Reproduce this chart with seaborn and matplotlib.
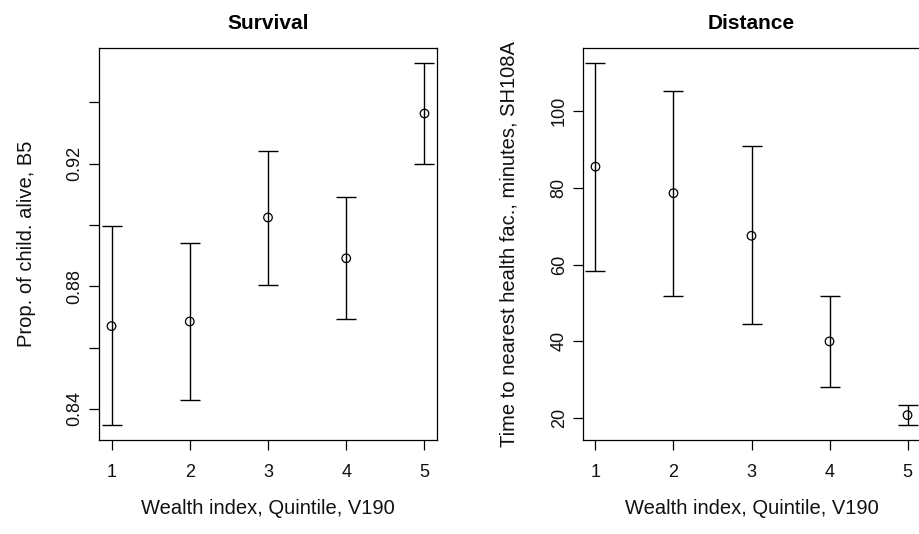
import numpy as np
import pandas as pd
import matplotlib
matplotlib.use("Agg")
import matplotlib.pyplot as plt
import seaborn as sns

# Wealth quintiles (x)
quintile = [1, 2, 3, 4, 5]

# Survival panel: proportion of children alive (B5), mean and interval
surv_mean = [0.8670, 0.8685, 0.9024, 0.8891, 0.9363]
surv_low = [0.8346, 0.8428, 0.8805, 0.8692, 0.9197]
surv_high = [0.8995, 0.8941, 0.9242, 0.9091, 0.9529]
surv_ticks = [0.84, 0.86, 0.88, 0.90, 0.92, 0.94]
surv_labels = ["0.84", "", "0.88", "", "0.92", ""]

# Distance panel: minutes to nearest health facility (SH108A)
dist_mean = [85.5, 78.6, 67.5, 40.0, 20.8]
dist_low = [58.3, 51.9, 44.4, 28.2, 18.1]
dist_high = [112.6, 105.3, 90.8, 51.8, 23.5]
dist_ticks = [20, 40, 60, 80, 100]
dist_labels = ["20", "40", "60", "80", "100"]


def r_style_panel(ax, mean, low, high, ticks, labels, title, ylabel, ylabel_pad):
    df = pd.DataFrame({"x": quintile, "y": mean, "lo": low, "hi": high})
    ax.errorbar(df["x"], df["y"],
                yerr=[df["y"] - df["lo"], df["hi"] - df["y"]],
                fmt="none", ecolor="black", elinewidth=1.0,
                capsize=7.5, capthick=1.0, zorder=2)
    sns.scatterplot(data=df, x="x", y="y", ax=ax, marker="o", s=38,
                    facecolor="none", edgecolor="black", linewidth=0.9,
                    zorder=3)
    # R-like 4% padding on both axes
    rng = max(high) - min(low)
    ax.set_ylim(min(low) - 0.04 * rng, max(high) + 0.04 * rng)
    ax.set_xlim(0.84, 5.16)
    ax.set_xticks(quintile)
    ax.set_xticklabels([str(q) for q in quintile])
    ax.set_yticks(ticks)
    ax.set_yticklabels(labels, rotation=90, va="center")
    for s in ax.spines.values():
        s.set_visible(True)
        s.set_color("black")
        s.set_linewidth(0.9)
    ax.tick_params(axis="both", direction="out", length=7, width=0.9,
                   color="black", labelsize=13, labelcolor="#111111",
                   bottom=True, left=True)
    ax.tick_params(axis="x", pad=10)
    ax.tick_params(axis="y", pad=4)
    ax.set_title(title, fontsize=15, fontweight="bold", pad=14, color="black")
    ax.set_xlabel("Wealth index, Quintile, V190", fontsize=14.5, labelpad=13,
                  color="#111111")
    ax.set_ylabel(ylabel, fontsize=14.5, labelpad=ylabel_pad, color="#111111")


sns.set_theme(style="white")
plt.rcParams["font.family"] = ["Liberation Sans", "DejaVu Sans"]

fig = plt.figure(figsize=(9.2, 5.34), dpi=100)
ax1 = fig.add_axes([0.1076, 0.176, 0.3674, 0.734])
ax2 = fig.add_axes([0.6337, 0.176, 0.3663, 0.734])

r_style_panel(ax1, surv_mean, surv_low, surv_high, surv_ticks, surv_labels,
              "Survival", "Prop. of child. alive, B5", 22)
r_style_panel(ax2, dist_mean, dist_low, dist_high, dist_ticks, dist_labels,
              "Distance", "Time to nearest health fac., minutes, SH108A", 23)

fig.savefig("out.png", dpi=100, facecolor="white")
